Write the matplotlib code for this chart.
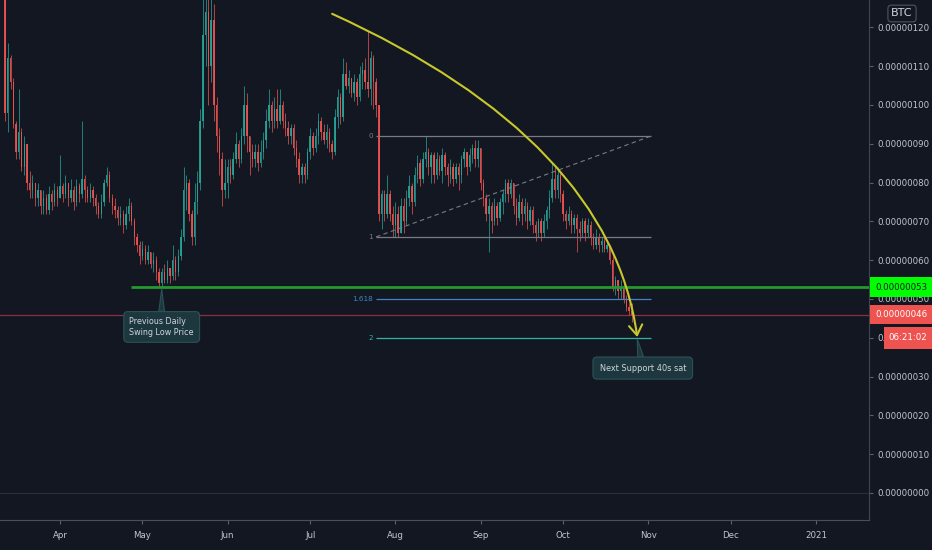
import numpy as np
import pandas as pd
import matplotlib
matplotlib.use('Agg')
import matplotlib.pyplot as plt
import matplotlib.dates as mdates
from matplotlib import font_manager
from matplotlib.patches import Rectangle, FancyArrowPatch
from matplotlib.path import Path
from matplotlib.transforms import blended_transform_factory

# daily candles, price in satoshi (1 sat = 0.00000001 BTC)
start_day = '2020-03-12'
first_open = 128
close = [
    98, 112, 106, 95, 88, 93, 84, 90, 80, 78,
    80, 76, 78, 74, 76, 73, 77, 75, 78, 76,
    79, 77, 80, 76, 78, 75, 79, 77, 81, 78,
    76, 78, 76, 74, 72, 75, 80, 82, 76, 74,
    73, 71, 72, 69, 72, 74, 70, 66, 64, 61,
    63, 60, 62, 59, 60, 57, 54, 57, 55, 58,
    56, 60, 57, 61, 66, 78, 80, 72, 66, 75,
    80, 96, 118, 124, 110, 122, 100, 92, 86, 78,
    80, 84, 82, 86, 90, 86, 92, 100, 92, 88,
    86, 88, 85, 88, 91, 96, 100, 96, 99, 96,
    100, 96, 94, 92, 94, 89, 86, 82, 84, 82,
    88, 92, 89, 92, 96, 93, 91, 93, 90, 88,
    97, 102, 97, 108, 105, 107, 103, 106, 102, 108,
    109, 106, 104, 112, 106, 100, 72, 77, 72, 77,
    72, 69, 72, 67, 74, 70, 76, 79, 75, 82,
    85, 81, 86, 88, 84, 87, 82, 86, 83, 87,
    84, 82, 84, 81, 84, 82, 86, 88, 84, 87,
    89, 86, 89, 80, 76, 72, 74, 70, 74, 71,
    75, 77, 80, 77, 80, 74, 71, 75, 72, 74,
    70, 73, 69, 67, 70, 67, 70, 73, 76, 81,
    78, 82, 77, 72, 70, 72, 69, 71, 68, 67,
    70, 67, 69, 66, 64, 66, 64, 65, 63, 64,
    60, 53, 55, 52, 53, 50, 48, 47, 46,
]
high = [
    131, 116, 113, 107, 96, 104, 94, 92, 90, 83,
    82, 80, 80, 78, 78, 77, 79, 78, 80, 79,
    87, 80, 82, 80, 81, 79, 81, 80, 96, 82,
    79, 80, 79, 77, 75, 77, 81, 84, 83, 77,
    76, 74, 74, 73, 74, 76, 75, 71, 67, 65,
    65, 64, 64, 62, 62, 61, 58, 58, 59, 60,
    58, 64, 61, 63, 68, 84, 82, 81, 73, 80,
    83, 99, 140, 140, 136, 135, 126, 102, 94, 88,
    86, 86, 86, 88, 93, 91, 94, 105, 103, 92,
    90, 90, 90, 91, 93, 99, 104, 101, 102, 104,
    104, 101, 98, 96, 95, 95, 91, 88, 85, 85,
    89, 94, 93, 94, 98, 97, 95, 95, 94, 91,
    99, 104, 103, 112, 111, 109, 107, 108, 107, 110,
    111, 112, 119, 114, 113, 107, 100, 78, 78, 82,
    78, 74, 75, 74, 76, 76, 78, 82, 80, 84,
    87, 86, 88, 92, 89, 88, 88, 88, 87, 89,
    88, 85, 86, 85, 85, 85, 87, 89, 88, 89,
    90, 91, 91, 89, 81, 77, 76, 75, 76, 75,
    76, 78, 81, 81, 81, 80, 76, 77, 76, 76,
    75, 74, 74, 70, 71, 71, 72, 74, 78, 85,
    84, 84, 83, 78, 73, 74, 73, 72, 72, 70,
    71, 71, 71, 70, 67, 68, 67, 66, 66, 65,
    64, 61, 56, 55, 55, 54, 51, 49, 49,
]
low = [
    96, 93, 104, 94, 86, 86, 83, 82, 78, 76,
    76, 74, 74, 72, 72, 72, 72, 73, 74, 74,
    76, 75, 76, 74, 75, 73, 74, 75, 76, 75,
    75, 75, 74, 72, 71, 71, 74, 79, 75, 72,
    71, 69, 69, 67, 68, 70, 69, 64, 62, 59,
    60, 59, 59, 58, 57, 55, 53, 53, 54, 54,
    54, 55, 55, 56, 60, 65, 73, 70, 64, 64,
    72, 78, 94, 110, 100, 106, 96, 88, 82, 74,
    76, 76, 80, 81, 85, 84, 85, 90, 88, 82,
    84, 84, 83, 84, 86, 89, 94, 93, 94, 94,
    95, 94, 92, 90, 90, 87, 84, 80, 80, 80,
    81, 86, 87, 88, 90, 91, 90, 89, 88, 86,
    87, 94, 95, 96, 104, 103, 102, 101, 100, 101,
    104, 104, 102, 100, 99, 97, 70, 68, 70, 71,
    70, 66, 66, 66, 67, 67, 69, 74, 72, 74,
    80, 79, 80, 84, 82, 80, 80, 81, 82, 80,
    82, 79, 80, 79, 80, 78, 80, 84, 82, 83,
    85, 84, 84, 78, 74, 70, 62, 67, 69, 69,
    70, 72, 75, 75, 76, 72, 69, 70, 69, 70,
    68, 69, 67, 65, 66, 65, 66, 68, 71, 75,
    76, 76, 75, 70, 68, 69, 67, 67, 62, 65,
    66, 65, 66, 64, 63, 63, 62, 62, 62, 62,
    59, 52, 51, 50, 50, 49, 47, 46, 44,
]

y_ticks = list(range(0, 121, 10))
support_price = 53
last_price = 46
countdown = '06:21:02'
support_start = '2020-04-27'

# fib retracement anchors (level 1 -> level 0)
fib_start, fib_end = '2020-07-25', '2020-11-02'
fib_low, fib_high = 66, 92
fib_levels = [0, 1, 1.618, 2]
fib_labels = ['0', '1', '1.618', '2']
fib_colors = ['#787b86', '#787b86', '#3d85c6', '#2fb3a4']

# yellow curve: start, control, end
curve_dates = ['2020-07-09', '2020-10-18', '2020-10-28']
curve_prices = [123.5, 91, 40.2]

swing_low = ('2020-05-08', 52.6)
swing_box = ('2020-05-08', 42.8)
next_sup = ('2020-10-28', 39.6)
next_box = ('2020-10-30', 32.2)

names = {f.name for f in font_manager.fontManager.ttflist}
ui_font = 'Liberation Sans Narrow' if 'Liberation Sans Narrow' in names else 'DejaVu Sans'
fs = 8 if ui_font != 'DejaVu Sans' else 6.2
plt.rcParams['font.family'] = [ui_font, 'DejaVu Sans']

bg = '#131722'
up_c, down_c = '#26a69a', '#ef5350'

fig = plt.figure(figsize=(9.32, 5.5), dpi=100, facecolor=bg)
ax = fig.add_axes([0, 30 / 550, 869 / 932, 520 / 550])
ax.set_facecolor(bg)

dates = pd.date_range(start_day, periods=len(close))
x = mdates.date2num(dates)
c = np.array(close, float)
o = np.array([first_open] + close[:-1], float)
h = np.array(high, float)
l = np.array(low, float)
cols = np.where(c >= o, up_c, down_c)

ax.vlines(x, l, h, colors=cols, lw=0.6, alpha=0.85, zorder=2)
ax.bar(x, np.maximum(np.abs(c - o), 0.3), bottom=np.minimum(o, c), width=0.5,
       color=cols, alpha=0.9, linewidth=0, zorder=3)

d = lambda s: mdates.date2num(pd.Timestamp(s))
x0 = d(start_day)
ax.set_xlim(x0 - 1.82, x0 + 314.3)
ax.set_ylim(-6.96, 127.06)

# faint zero line
ax.axhline(0, color='#2a2e39', lw=0.8, zorder=1)

# support line and last price line
ax.hlines(support_price, d(support_start), d('2021-03-01'), color='#239a2e', lw=2, zorder=4)
ax.axhline(last_price, color='#8a3040', lw=0.9, zorder=1.5)

# fib retracement
fs_, fe_ = d(fib_start), d(fib_end)
for lv, lab, col in zip(fib_levels, fib_labels, fib_colors):
    p = fib_high - lv * (fib_high - fib_low)
    ax.hlines(p, fs_, fe_, color=col, lw=0.9, zorder=4)
    ax.text(fs_ - 1.2, p, lab, color=col, fontsize=5.2, ha='right', va='center', zorder=4)
ax.plot([fs_, fe_], [fib_low, fib_high], color='#787b86', lw=0.8, ls=(0, (4, 3)), zorder=4)

# curved arrow
verts = [(d(a), b) for a, b in zip(curve_dates, curve_prices)]
curve = FancyArrowPatch(path=Path(verts, [Path.MOVETO, Path.CURVE3, Path.CURVE3]),
                        arrowstyle='->,head_length=0.45,head_width=0.3', mutation_scale=16,
                        color='#c8c82c', lw=1.5, zorder=6)
ax.add_patch(curve)

# callouts
box_fc, box_ec = '#1c383e', '#2b5258'
ax.annotate('Previous Daily\nSwing Low Price', xy=(d(swing_low[0]), swing_low[1]),
            xytext=(d(swing_box[0]), swing_box[1]), ha='center', va='center',
            multialignment='left', fontsize=5.8, color='#d1d4dc', zorder=7,
            bbox=dict(boxstyle='round,pad=0.7,rounding_size=0.5', fc=box_fc, ec=box_ec, lw=0.8),
            arrowprops=dict(arrowstyle='wedge,tail_width=0.7', fc=box_fc, ec=box_ec, lw=0.8,
                            shrinkA=0, shrinkB=0))
ax.annotate('Next Support 40s sat', xy=(d(next_sup[0]), next_sup[1]),
            xytext=(d(next_box[0]), next_box[1]), ha='center', va='center',
            fontsize=5.9, color='#d1d4dc', zorder=7,
            bbox=dict(boxstyle='round,pad=0.8,rounding_size=0.5', fc=box_fc, ec=box_ec, lw=0.8),
            arrowprops=dict(arrowstyle='wedge,tail_width=0.7', fc=box_fc, ec=box_ec, lw=0.8,
                            shrinkA=0, shrinkB=0))

# axes styling
for s in ['top', 'left']:
    ax.spines[s].set_visible(False)
ax.spines['right'].set_color('#434651')
ax.spines['bottom'].set_color('#4a4e59')
ax.yaxis.tick_right()
ax.set_yticks(y_ticks)
ax.yaxis.set_major_formatter(plt.FuncFormatter(lambda v, p: f'{v * 1e-8:.8f}'))
ax.xaxis.set_major_locator(mdates.MonthLocator())
ax.xaxis.set_major_formatter(plt.FuncFormatter(
    lambda v, p: str(mdates.num2date(v).year) if mdates.num2date(v).month == 1
    else mdates.num2date(v).strftime('%b')))
ax.tick_params(axis='both', colors='#5d606b', labelcolor='#c3c6ce', labelsize=fs, length=3, width=0.8)
ax.tick_params(axis='x', pad=5)
ax.tick_params(axis='y', pad=3)

# price labels on the scale
tr = blended_transform_factory(ax.transAxes, ax.transData)
px = 1 / 869
def scale_label(price, text, fc, tc, left=1, width=62, hgt=5.1):
    ax.add_patch(Rectangle((1 + left * px, price - hgt / 2), width * px, hgt, transform=tr,
                           fc=fc, ec='none', clip_on=False, zorder=8))
    ax.text(1 + (left + width / 2) * px, price, text, transform=tr, ha='center', va='center',
            color=tc, fontsize=fs, clip_on=False, zorder=9)

scale_label(support_price, f'{support_price * 1e-8:.8f}', '#00ff00', '#131722')
scale_label(last_price, f'{last_price * 1e-8:.8f}', '#ef5350', 'white')
scale_label(40, countdown, '#ef5350', 'white', left=15, width=48, hgt=5.6)

fig.text(902 / 932, 1 - 13.5 / 550, 'BTC', ha='center', va='center', fontsize=8,
         color='#d1d4dc', bbox=dict(boxstyle='round,pad=0.3', fc=bg, ec='#50535e', lw=0.8))

fig.savefig('out.png', dpi=100, facecolor=bg)
